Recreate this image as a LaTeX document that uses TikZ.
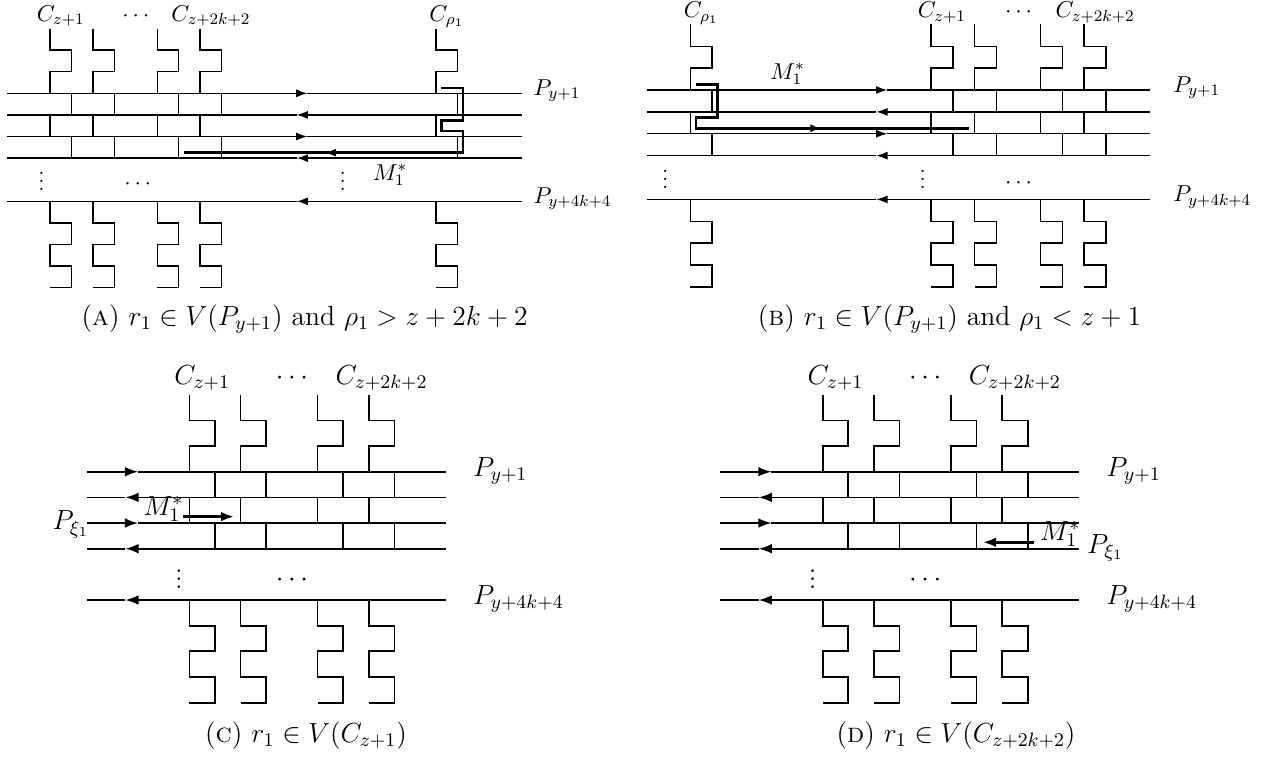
\RequirePackage{fix-cm}
\documentclass[tikz,border=0pt]{standalone}
\usetikzlibrary{arrows.meta}
\tikzset{
  ln/.style={line width=0.72pt},
  mst/.style={line width=1.3pt, line join=miter},
  arrtip/.style={-{Latex[length=5.6pt,width=4pt]}},
  lab/.style={font=\fontsize{11.5}{13}\selectfont, inner sep=0pt},
  capt/.style={font=\fontsize{13.8}{16}\selectfont, inner sep=0pt, anchor=base},
}
% one column C_i: zig-zag above, through the four paths, zig-zag below
\newcommand{\zcol}[1]{%
  \draw[ln] (#1,-3) |- (#1+1,-2) |- (#1,-1) -- (#1,0);
  \draw[ln] (#1+1,0) -- (#1+1,1);
  \draw[ln] (#1,1) -- (#1,2);
  \draw[ln] (#1+1,2) -- (#1+1,3);
  \draw[ln] (#1,5) |- (#1+1,6) |- (#1,7) |- (#1+1,8) |- (#1,9);
}
% the five paths: #1 left end, #2 right end, #3 tip of right arrows, #4 tip of left arrows
\newcommand{\plines}[4]{%
  \draw[ln,arrtip] (#1,0) -- (#3,0); \draw[ln] (#3,0) -- (#2,0);
  \draw[ln,arrtip] (#2,1) -- (#4,1); \draw[ln] (#4,1) -- (#1,1);
  \draw[ln,arrtip] (#1,2) -- (#3,2); \draw[ln] (#3,2) -- (#2,2);
  \draw[ln,arrtip] (#2,3) -- (#4,3); \draw[ln] (#4,3) -- (#1,3);
  \draw[ln,arrtip] (#2,5) -- (#4,5); \draw[ln] (#4,5) -- (#1,5);
}
\begin{document}
\begin{tikzpicture}[x=0.5pt,y=-0.5pt]
\useasboundingbox (0,0) rectangle (1261,757);

% ---------------- (A) ----------------
\begin{scope}[shift={(50,93.3)}, x=10.725pt, y=-10.8pt]
  \foreach \c in {0,2,5,7,18} {\zcol{\c}}
  \plines{-2}{22}{12}{11.5}
  \draw[mst] (18.25,-.25) -| (19.25,1.25) -| (18.25,1.75) -| (19.25,2.75) -- (6.25,2.75);
  \draw[mst,arrtip] (13.3,2.75) -- (12.8,2.75);
  \node[lab,anchor=base] (a-c1) at (0.5,-3.33) {$C_{z+1}$};
  \node[lab,anchor=base] (a-cd) at (4,-3.33) {$\cdots$};
  \node[lab,anchor=base] (a-c2) at (7.5,-3.33) {$C_{z+2k+2}$};
  \node[lab,anchor=base] (a-cr) at (18.5,-3.33) {$C_{\rho_1}$};
  \node[lab,anchor=base west] (a-p1) at (22.53,0.08) {$P_{y+1}$};
  \node[lab,anchor=base west] (a-p2) at (22.53,5.08) {$P_{y+4k+4}$};
  \node[lab] (a-m) at (15.85,3.78) {$M_1^*$};
  \node[lab,anchor=base] (a-v1) at (-0.4,4.5) {$\vdots$};
  \node[lab,anchor=base] (a-v2) at (13.65,4.5) {$\vdots$};
  \node[lab,anchor=base] (a-h) at (4.09,4.45) {$\cdots$};
\end{scope}

% ---------------- (B) ----------------
\begin{scope}[shift={(931,90)}, x=10.94pt, y=-10.94pt]
  \foreach \c in {-11,0,2,5,7} {\zcol{\c}}
  \plines{-13}{10}{-2}{-2.5}
  \draw[mst] (-10.75,-.25) -| (-9.75,1.25) -| (-10.75,1.75) -- (1.75,1.75);
  \draw[mst,arrtip] (-5.5,1.75) -- (-5,1.75);
  \node[lab,anchor=base] (b-cr) at (-10.5,-3.3) {$C_{\rho_1}$};
  \node[lab,anchor=base] (b-c1) at (0.5,-3.3) {$C_{z+1}$};
  \node[lab,anchor=base] (b-cd) at (4,-3.3) {$\cdots$};
  \node[lab,anchor=base] (b-c2) at (7.5,-3.3) {$C_{z+2k+2}$};
  \node[lab,anchor=base west] (b-p1) at (11.06,0.1) {$P_{y+1}$};
  \node[lab,anchor=base west] (b-p2) at (11.06,5.1) {$P_{y+4k+4}$};
  \node[lab] (b-m) at (-6.56,-0.73) {$M_1^*$};
  \node[lab,anchor=base] (b-v1) at (-12.15,4.5) {$\vdots$};
  \node[lab,anchor=base] (b-v2) at (-0.38,4.5) {$\vdots$};
  \node[lab,anchor=base] (b-h) at (4,4.49) {$\cdots$};
\end{scope}

% ---------------- (C) ----------------
\begin{scope}[shift={(189.4,471.7)}, x=12.81pt, y=-12.83pt,
  ln/.style={line width=0.85pt}, mst/.style={line width=1.55pt},
  arrtip/.style={-{Latex[length=6.6pt,width=4.8pt]}},
  lab/.style={font=\fontsize{13.8}{16}\selectfont, inner sep=0pt}]
  \foreach \c in {0,2,5,7} {\zcol{\c}}
  \plines{-4}{10}{-2}{-2.5}
  \draw[mst,arrtip] (-0.25,1.75) -- (1.75,1.75);
  \node[lab,anchor=base] (c-c1) at (0.5,-3.39) {$C_{z+1}$};
  \node[lab,anchor=base] (c-cd) at (4,-3.39) {$\cdots$};
  \node[lab,anchor=base] (c-c2) at (7.5,-3.39) {$C_{z+2k+2}$};
  \node[lab,anchor=base west] (c-p1) at (11.06,0.17) {$P_{y+1}$};
  \node[lab,anchor=base west] (c-p2) at (11.06,5.17) {$P_{y+4k+4}$};
  \node[lab,anchor=base east] (c-px) at (-3.9,2.27) {$P_{\xi_1}$};
  \node[lab] (c-m) at (-1.02,1.45) {$M_1^*$};
  \node[lab,anchor=base] (c-v1) at (-0.41,4.56) {$\vdots$};
  \node[lab,anchor=base] (c-h) at (4,4.49) {$\cdots$};
\end{scope}

% ---------------- (D) ----------------
\begin{scope}[shift={(822.7,471.7)}, x=12.81pt, y=-12.83pt,
  ln/.style={line width=0.85pt}, mst/.style={line width=1.55pt},
  arrtip/.style={-{Latex[length=6.6pt,width=4.8pt]}},
  lab/.style={font=\fontsize{13.8}{16}\selectfont, inner sep=0pt}]
  \foreach \c in {0,2,5,7} {\zcol{\c}}
  \plines{-4}{10}{-2}{-2.5}
  \draw[mst,arrtip] (8.25,2.75) -- (6.25,2.75);
  \node[lab,anchor=base] (d-c1) at (0.5,-3.39) {$C_{z+1}$};
  \node[lab,anchor=base] (d-cd) at (4,-3.39) {$\cdots$};
  \node[lab,anchor=base] (d-c2) at (7.5,-3.39) {$C_{z+2k+2}$};
  \node[lab,anchor=base west] (d-p1) at (11.06,0.17) {$P_{y+1}$};
  \node[lab,anchor=base west] (d-p2) at (11.06,5.17) {$P_{y+4k+4}$};
  \node[lab,anchor=base west] (d-px) at (10.3,3.18) {$P_{\xi_1}$};
  \node[lab] (d-m) at (9.27,2.43) {$M_1^*$};
  \node[lab,anchor=base] (d-v1) at (-0.39,4.56) {$\vdots$};
  \node[lab,anchor=base] (d-h) at (4,4.49) {$\cdots$};
\end{scope}

% ---------------- captions ----------------
\node[capt] (capA) at (304.7,325) {(\textsc{a}) $r_1\in V(P_{y+1})$ and $\rho_1>z+2k+2$};
\node[capt] (capB) at (949.5,325) {(\textsc{b}) $r_1\in V(P_{y+1})$ and $\rho_1<z+1$};
\node[capt] (capC) at (306,742) {(\textsc{c}) $r_1\in V(C_{z+1})$};
\node[capt] (capD) at (956,742) {(\textsc{d}) $r_1\in V(C_{z+2k+2})$};
\end{tikzpicture}
\end{document}
